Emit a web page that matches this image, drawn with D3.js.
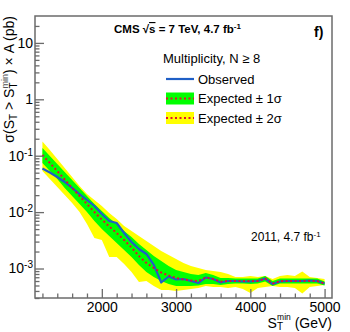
<!DOCTYPE html>
<html><head><meta charset="utf-8">
<script src="https://cdn.jsdelivr.net/npm/d3@7"></script>
<style>
body{margin:0;background:#fff}
svg{display:block}
text{font-family:"Liberation Sans",Arial,Helvetica,sans-serif}
</style>
</head><body>
<svg id="c" width="350" height="332"></svg>
<script>
// ---- data ----
const stMin = [1200,1300,1400,1500,1600,1700,1800,1900,2000,2100,2200,2300,2400,2500,2600,2700,2800,2900,3000,3100,3200,3300,3400,3500,3600,3700,3800,3900,4000,4100,4200,4300,4400,4500,4600,4700,4800,4900,5000];
const observed = [0.0593,0.0504,0.0419,0.0342,0.0268,0.0209,0.0164,0.01283,0.00925,0.00696,0.00641,0.00426,0.00295,0.00222,0.00181,0.00116,0.000565,0.000722,0.000638,0.000652,0.000600,0.000553,0.000693,0.000652,0.000565,0.000600,0.000600,0.000588,0.000588,0.000600,0.000665,0.000531,0.000588,0.000600,0.000600,0.000600,0.000613,0.000600,0.000542];
const expected = [0.1029,0.0742,0.0535,0.0379,0.0268,0.0193,0.0139,0.01004,0.00739,0.00556,0.00426,0.00320,0.00236,0.00167,0.001252,0.001021,0.000850,0.000752,0.000679,0.000638,0.000613,0.000600,0.000693,0.000652,0.000588,0.000600,0.000600,0.000600,0.000600,0.000600,0.000665,0.000542,0.000600,0.000600,0.000600,0.000600,0.000600,0.000600,0.000542];
const exp1Up = [0.1370,0.0988,0.0713,0.0514,0.0371,0.0268,0.0193,0.0139,0.01046,0.00786,0.00615,0.00462,0.00362,0.00272,0.00213,0.00167,0.001358,0.001108,0.000940,0.000867,0.000799,0.000767,0.000832,0.000767,0.000679,0.000679,0.000665,0.000665,0.000665,0.000665,0.000736,0.000600,0.000665,0.000665,0.000665,0.000665,0.000665,0.000665,0.000588];
const exp1Dn = [0.0742,0.0535,0.0386,0.0268,0.0193,0.0139,0.01004,0.00696,0.00502,0.00377,0.00283,0.00213,0.00160,0.001154,0.000867,0.000707,0.000600,0.000531,0.000489,0.000489,0.000489,0.000500,0.000531,0.000531,0.000510,0.000531,0.000542,0.000542,0.000531,0.000542,0.000588,0.000489,0.000542,0.000542,0.000542,0.000542,0.000542,0.000542,0.000500];
const exp2Up = [0.1786,0.1262,0.0874,0.0605,0.0419,0.0290,0.0209,0.0164,0.01283,0.00964,0.00754,0.00567,0.00462,0.00377,0.00307,0.00251,0.00204,0.001736,0.001474,0.001252,0.001108,0.001021,0.000940,0.000903,0.000867,0.000799,0.000707,0.000707,0.000736,0.000707,0.000736,0.000652,0.000736,0.000767,0.000736,0.000885,0.000707,0.000679,0.000652];
const exp2Dn = [0.0535,0.0386,0.0279,0.0201,0.0145,0.01004,0.00615,0.00347,0.00320,0.00160,0.00160,0.00120,0.000867,0.000576,0.000600,0.000489,0.000416,0.000416,0.000399,0.000416,0.000433,0.000451,0.000489,0.000470,0.000470,0.000451,0.000470,0.000433,0.000368,0.000451,0.000470,0.000489,0.000470,0.000470,0.000451,0.000360,0.000470,0.000489,0.000510];
const xTickLabels = [2000,3000,4000,5000];
const yTickValues = [1e-3,1e-2,1e-1,1,10];
const legendLabels = ["Observed","Expected \u00b1 1\u03c3","Expected \u00b1 2\u03c3"];

// ---- layout ----
const L=35, T=16, R=332, B=298;
const axCol = "#6b6b6b";
const svg = d3.select("#c");
const x = d3.scaleLinear().domain([1100,5100]).range([L,R]);
const y = d3.scaleLog().domain([3e-4,30]).range([B,T]);

svg.append("clipPath").attr("id","clip").append("rect")
  .attr("x",L).attr("y",T).attr("width",R-L).attr("height",B-T);
const g = svg.append("g").attr("clip-path","url(#clip)");
const idx = d3.range(stMin.length);
const area = (up,dn)=>d3.area().x(i=>x(stMin[i])).y0(i=>y(dn[i])).y1(i=>y(up[i]));
const line = arr=>d3.line().x(i=>x(stMin[i])).y(i=>y(arr[i]));

g.append("path").datum(idx).attr("d",area(exp2Up,exp2Dn)).attr("fill","#ffff00");
g.append("path").datum(idx).attr("d",area(exp1Up,exp1Dn)).attr("fill","#00ff00");
g.append("path").datum(idx).attr("d",line(observed)).attr("fill","none")
  .attr("stroke","#1f5fc6").attr("stroke-width",2.2).attr("stroke-linejoin","round");
g.append("path").datum(idx).attr("d",line(expected)).attr("fill","none")
  .attr("stroke","#e3122e").attr("stroke-width",2).attr("stroke-dasharray","2,2.5");

// ---- axes ----
function styleAxis(sel){
  sel.select(".domain").remove();
  sel.selectAll(".tick line").attr("stroke",axCol).attr("stroke-width",1.3);
  sel.attr("font-family",null).attr("font-size",null);
  sel.selectAll(".tick text").attr("fill","#000").style("font-size","14px");
}
const xMinor = d3.range(1200,5001,200).filter(v=>v%1000!==0);
svg.append("g").attr("transform",`translate(0,${B})`)
  .call(d3.axisBottom(x).tickValues(xMinor).tickSize(-4.5).tickFormat(""))
  .call(styleAxis);
svg.append("g").attr("transform",`translate(0,${B})`)
  .call(d3.axisBottom(x).tickValues(xTickLabels).tickSize(-9).tickPadding(4).tickFormat(d3.format("d")))
  .call(styleAxis);

const yMinor = [];
[-4,-3,-2,-1,0,1].forEach(e=>{for(let m=2;m<=9;m++){const v=m*Math.pow(10,e); if(v>3e-4 && v<30) yMinor.push(v);}});
svg.append("g").attr("transform",`translate(${L},0)`)
  .call(d3.axisLeft(y).tickValues(yMinor).tickSize(-4.5).tickFormat(""))
  .call(styleAxis);
const yG = svg.append("g").attr("transform",`translate(${L},0)`)
  .call(d3.axisLeft(y).tickValues(yTickValues).tickSize(-9).tickPadding(2).tickFormat(()=>""))
  .call(styleAxis);
yG.selectAll(".tick text").each(function(d){
  const e = Math.round(Math.log10(d));
  const t = d3.select(this);
  if (e===0) t.text("1");
  else if (e===1) t.text("10");
  else { t.append("tspan").text("10"); t.append("tspan").attr("dy","-0.5em").style("font-size","10px").text(e); }
});

// frame
svg.append("rect").attr("x",L).attr("y",T).attr("width",R-L).attr("height",B-T)
  .attr("fill","none").attr("stroke",axCol).attr("stroke-width",1.5);

// axis titles
const yl = svg.append("text").attr("transform",`translate(14,${T}) rotate(-90)`)
  .attr("text-anchor","end").style("font-size","14px");
yl.append("tspan").text("\u03c3(S");
yl.append("tspan").attr("dy",3).style("font-size","10px").text("T");
yl.append("tspan").attr("dy",-3).text(" > S");
yl.append("tspan").attr("dy",3).style("font-size","10px").text("T");
yl.append("tspan").attr("dx",-6).attr("dy",-9).style("font-size","9px").attr("fill","#555").text("min");
yl.append("tspan").attr("dy",6).text(") \u00d7 A (pb)");

const xl = svg.append("text").attr("x",R).attr("y",328).attr("text-anchor","end").style("font-size","14px");
xl.append("tspan").text("S");
xl.append("tspan").attr("dy",2).style("font-size","10px").text("T");
xl.append("tspan").attr("dx",-6).attr("dy",-10.5).style("font-size","8.5px").text("min");
xl.append("tspan").attr("dy",8.5).text(" (GeV)");

// title
const tt = svg.append("text").attr("x",114).attr("y",33).style("font-size","11.5px").attr("font-weight","bold");
tt.append("tspan").text("CMS \u221a");
tt.append("tspan").style("text-decoration","overline").text("s");
tt.append("tspan").text(" = 7 TeV, 4.7 fb");
tt.append("tspan").attr("dy",-4).style("font-size","8px").text("-1");

svg.append("text").attr("x",314).attr("y",37).style("font-size","14px").attr("font-weight","bold").text("f)");

// legend
svg.append("text").attr("x",163).attr("y",62.5).style("font-size","13px").text("Multiplicity, N \u2265 8");
const lx0 = 166, lx1 = 194, rows = [79, 98.5, 118];
svg.append("line").attr("x1",lx0).attr("x2",lx1).attr("y1",rows[0]).attr("y2",rows[0])
  .attr("stroke","#1f5fc6").attr("stroke-width",2.2);
[["#00ff00",rows[1]],["#ffff00",rows[2]]].forEach(([c,cy])=>{
  svg.append("rect").attr("x",lx0).attr("y",cy-6).attr("width",lx1-lx0).attr("height",12).attr("fill",c);
  svg.append("line").attr("x1",lx0).attr("x2",lx1).attr("y1",cy).attr("y2",cy)
    .attr("stroke","#e3122e").attr("stroke-width",2).attr("stroke-dasharray","2,2.5");
});
legendLabels.forEach((s,i)=>{
  svg.append("text").attr("x",198).attr("y",rows[i]+4.5).style("font-size","13px").text(s);
});

// annotation
const an = svg.append("text").attr("x",251).attr("y",241).style("font-size","12px");
an.append("tspan").text("2011, 4.7 fb");
an.append("tspan").attr("dy",-4).style("font-size","8px").text("-1");
</script>
</body></html>
